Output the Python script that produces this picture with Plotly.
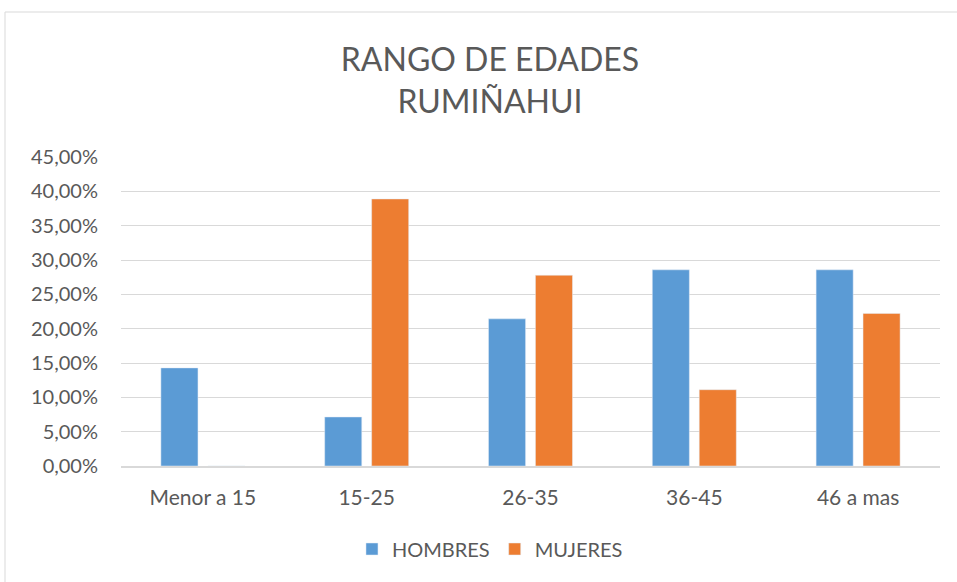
import plotly.graph_objects as go

categories = ["Menor a 15", "15-25", "26-35", "36-45", "46 a mas"]
hombres = [0.1429, 0.0714, 0.2143, 0.2857, 0.2857]
mujeres = [0.0, 0.3889, 0.2778, 0.1111, 0.2222]
y_ticks = [0, 0.05, 0.10, 0.15, 0.20, 0.25, 0.30, 0.35, 0.40, 0.45]

FONT = "Lato"
GREY = "#595959"

fig = go.Figure()
fig.add_trace(go.Bar(name="HOMBRES", x=categories, y=hombres, marker_color="#5B9BD5"))
fig.add_trace(go.Bar(name="MUJERES", x=categories, y=mujeres, marker_color="#ED7D31"))

fig.update_layout(
    width=957, height=582,
    margin=dict(l=121, r=17, t=157, b=116),
    paper_bgcolor="white", plot_bgcolor="white",
    separators=",.",
    barmode="group", bargap=0.427, bargroupgap=0.21,
    font=dict(family=FONT, color=GREY, size=20),
    title=dict(text="RANGO DE EDADES<br>RUMIÑAHUI", x=0.512, xanchor="center",
               y=1 - 71 / 582, yanchor="middle", yref="container",
               font=dict(family=FONT, size=32, color=GREY)),
    legend=dict(orientation="h", x=0.512, xanchor="center", xref="container",
                y=1 - 549 / 582, yanchor="middle", yref="container",
                font=dict(family=FONT, size=20, color=GREY),
                itemwidth=30, traceorder="normal"),
    showlegend=True,
)
fig.update_yaxes(range=[0, 0.45], tickvals=y_ticks, tickformat=".2%",
                 showgrid=True, gridcolor="#D9D9D9", gridwidth=1,
                 zeroline=False, showline=False, ticks="",
                 ticklabelstandoff=22, tickfont=dict(size=20, color=GREY))
fig.update_xaxes(showline=True, linecolor="#D9D9D9", linewidth=1.5, ticks="",
                 ticklabelstandoff=12, tickfont=dict(size=21, color=GREY))

fig.add_shape(type="rect", xref="paper", yref="paper",
              x0=(5 - 121) / 819, x1=1.2, y0=-0.6, y1=(466 - 12) / 309,
              line=dict(color="#D9D9D9", width=1), fillcolor="rgba(0,0,0,0)", layer="below")

fig.write_html("out.html", config={"displayModeBar": False},
               post_script="document.body.style.margin='0px';")
